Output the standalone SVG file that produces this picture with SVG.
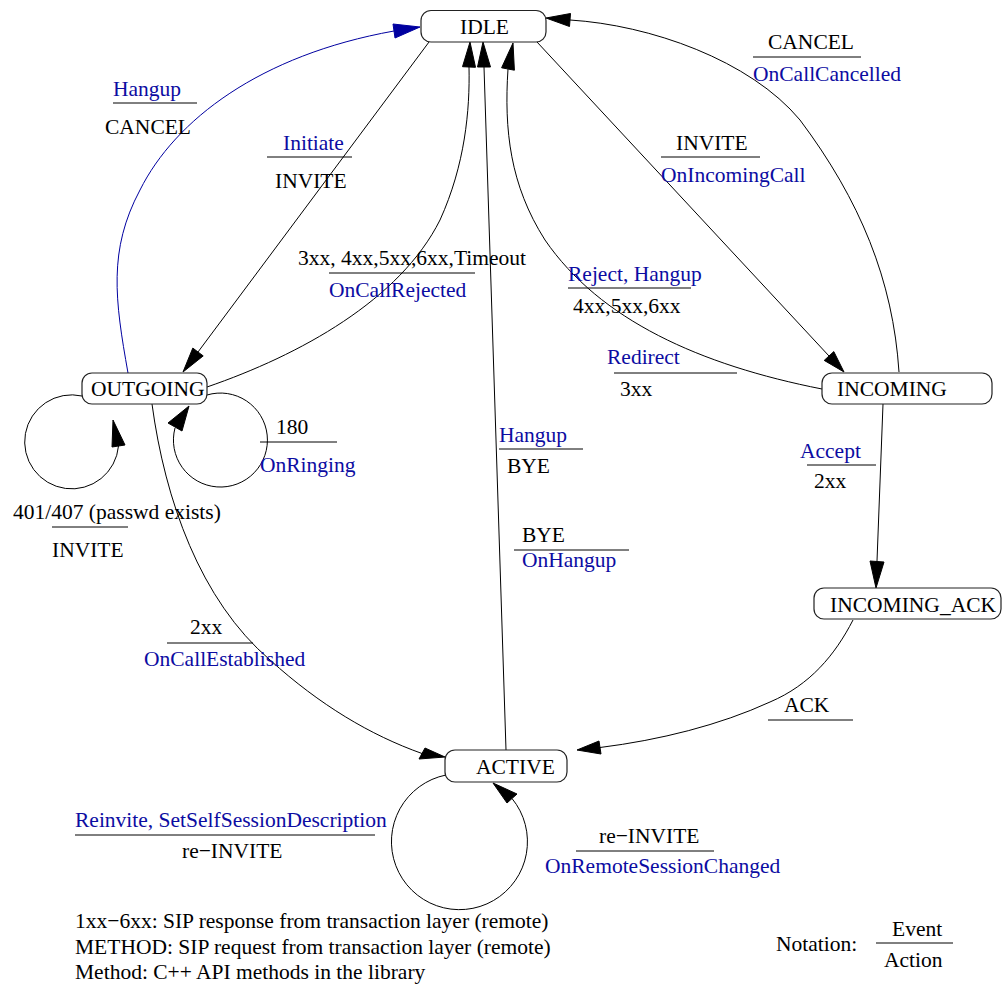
<svg xmlns="http://www.w3.org/2000/svg" width="1002" height="984" viewBox="0 0 1002 984">
  <style>
    text { font-family: "Liberation Serif", "Times New Roman", serif; font-size: 21.5px; fill: #000; }
    text.b { fill: #0c0ca2; }
    .node { fill: #fff; stroke: #222; stroke-width: 1.2; }
    .edge { fill: none; stroke: #000; stroke-width: 1; }
    .edge.blue { stroke: #0000a0; }
    .head { fill: #000; stroke: #000; stroke-width: 1; }
    .head.blue { fill: #0000a0; stroke: #0000a0; }
    .sep { stroke: #000; stroke-width: 1; }
  </style>
  <rect width="1002" height="984" fill="#fff"/>

  <!-- connectors -->
  <g id="edges">
    <!-- OUTGOING -> IDLE : Hangup / CANCEL -->
    <path class="edge blue" d="M128,373 C115,300 108,250 140,190 C175,120 260,55 394,31"/>
    <polygon class="head blue" points="420,27 395,38 393,24"/>

    <!-- IDLE -> OUTGOING : Initiate / INVITE -->
    <path class="edge" d="M429,42 L198,352"/>
    <polygon class="head" points="183,372 192.8,348.1 203.2,355.9"/>

    <!-- OUTGOING -> IDLE : 3xx..Timeout / OnCallRejected -->
    <path class="edge" d="M207,387 C300,355 400,300 440,220 C465,165 470,110 469,67"/>
    <polygon class="head" points="470,42 475.5,67.3 462.5,66.7"/>

    <!-- ACTIVE -> IDLE : Hangup / BYE and BYE / OnHangup -->
    <path class="edge" d="M506,750 L484,67"/>
    <polygon class="head" points="483,42 490.5,67 477.5,67"/>

    <!-- INCOMING -> IDLE : Reject, Hangup / 4xx..  and Redirect / 3xx -->
    <path class="edge" d="M822,389 C700,365 600,320 545,240 C510,185 504,130 508,69"/>
    <polygon class="head" points="513,43 514.4,70.2 501.6,67.8"/>

    <!-- IDLE -> INCOMING : INVITE / OnIncomingCall -->
    <path class="edge" d="M537,42 L829,356"/>
    <polygon class="head" points="844,372 824.2,360.4 833.8,351.6"/>

    <!-- INCOMING -> IDLE : CANCEL / OnCallCancelled -->
    <path class="edge" d="M899,372 C893,280 860,200 800,120 C750,60 650,25 570,20"/>
    <polygon class="head" points="546,18 570.5,13.5 569.5,26.5"/>

    <!-- OUTGOING self loop : 401/407 / INVITE -->
    <path class="edge" d="M82,396 A47,47 0 1 0 118.5,446"/>
    <polygon class="head" points="113,420 112,447 125,445"/>

    <!-- OUTGOING self loop : 180 / OnRinging -->
    <path class="edge" d="M207,395 A47,47 0 1 1 175,428"/>
    <polygon class="head" points="189,406 168,423 182,431"/>

    <!-- OUTGOING -> ACTIVE : 2xx / OnCallEstablished -->
    <path class="edge" d="M152,404 C165,500 200,600 270,660 C320,705 370,735 422,753.5"/>
    <polygon class="head" points="445,757 419,759 425,748"/>

    <!-- INCOMING -> INCOMING_ACK : Accept / 2xx -->
    <path class="edge" d="M883,404 L877,561"/>
    <polygon class="head" points="876,588 870,561 884,562"/>

    <!-- INCOMING_ACK -> ACTIVE : ACK -->
    <path class="edge" d="M853,620 C835,655 810,685 770,702 C720,725 660,740 600,747.5"/>
    <polygon class="head" points="577,750 599,741 601,754"/>

    <!-- ACTIVE self loop : Reinvite / re-INVITE -->
    <path class="edge" d="M446,775 A68,68 0 1 0 512,798.5"/>
    <polygon class="head" points="493,783 507,803 517,794"/>
  </g>

  <!-- edge labels: event above the bar, action below -->
  <g id="labels">
    <text class="b" x="113" y="96">Hangup</text>
    <line class="sep" x1="113" y1="103" x2="197" y2="103"/>
    <text x="105" y="134">CANCEL</text>

    <text class="b" x="283" y="150">Initiate</text>
    <line class="sep" x1="267" y1="157" x2="352" y2="157"/>
    <text x="275" y="188">INVITE</text>

    <text x="298" y="265">3xx, 4xx,5xx,6xx,Timeout</text>
    <line class="sep" x1="329" y1="273" x2="475" y2="273"/>
    <text class="b" x="329" y="297">OnCallRejected</text>

    <text x="768" y="49">CANCEL</text>
    <line class="sep" x1="753" y1="57" x2="861" y2="57"/>
    <text class="b" x="753" y="81">OnCallCancelled</text>

    <text x="676" y="150">INVITE</text>
    <line class="sep" x1="661" y1="157" x2="760" y2="157"/>
    <text class="b" x="661" y="182">OnIncomingCall</text>

    <text class="b" x="568" y="281">Reject, Hangup</text>
    <line class="sep" x1="568" y1="288" x2="691" y2="288"/>
    <text x="573" y="313">4xx,5xx,6xx</text>

    <text class="b" x="607" y="364">Redirect</text>
    <line class="sep" x1="614" y1="373" x2="737" y2="373"/>
    <text x="620" y="396">3xx</text>

    <text class="b" x="499" y="442">Hangup</text>
    <line class="sep" x1="499" y1="449" x2="583" y2="449"/>
    <text x="507" y="473">BYE</text>

    <text x="522" y="542">BYE</text>
    <line class="sep" x1="514" y1="550" x2="629" y2="550"/>
    <text class="b" x="522" y="567">OnHangup</text>

    <text class="b" x="800" y="458">Accept</text>
    <line class="sep" x1="807" y1="465" x2="876" y2="465"/>
    <text x="814" y="488">2xx</text>

    <text x="276" y="434">180</text>
    <line class="sep" x1="260" y1="442" x2="337" y2="442"/>
    <text class="b" x="260" y="472">OnRinging</text>

    <text x="13" y="519">401/407 (passwd exists)</text>
    <line class="sep" x1="52" y1="527" x2="128" y2="527"/>
    <text x="52" y="557">INVITE</text>

    <text x="190" y="634">2xx</text>
    <line class="sep" x1="167" y1="643" x2="253" y2="643"/>
    <text class="b" x="144" y="666">OnCallEstablished</text>

    <text x="784" y="712">ACK</text>
    <line class="sep" x1="768" y1="720" x2="853" y2="720"/>

    <text class="b" x="75" y="827">Reinvite, SetSelfSessionDescription</text>
    <line class="sep" x1="75" y1="835" x2="375" y2="835"/>
    <text x="182" y="858">re−INVITE</text>

    <text x="599" y="843">re−INVITE</text>
    <line class="sep" x1="576" y1="851" x2="714" y2="851"/>
    <text class="b" x="545" y="873">OnRemoteSessionChanged</text>
  </g>

  <!-- states -->
  <g id="IDLE">
    <rect class="node" x="421" y="10.5" width="125" height="31.5" rx="10"/>
    <text x="460" y="34">IDLE</text>
  </g>
  <g id="OUTGOING">
    <rect class="node" x="82" y="373" width="125" height="31" rx="10"/>
    <text x="91" y="396">OUTGOING</text>
  </g>
  <g id="INCOMING">
    <rect class="node" x="822" y="373" width="170" height="31" rx="10"/>
    <text x="837" y="396">INCOMING</text>
  </g>
  <g id="INCOMING_ACK">
    <rect class="node" x="814" y="588" width="187" height="31" rx="10"/>
    <text x="830" y="612">INCOMING_ACK</text>
  </g>
  <g id="ACTIVE">
    <rect class="node" x="445" y="750" width="122" height="32" rx="10"/>
    <text x="476" y="774">ACTIVE</text>
  </g>

  <!-- legend -->
  <g id="legend">
    <text x="75" y="928">1xx−6xx: SIP response from transaction layer (remote)</text>
    <text x="75" y="954">METHOD: SIP request from transaction layer (remote)</text>
    <text x="75" y="979">Method: C++ API methods in the library</text>
    <text x="776" y="951">Notation:</text>
    <text x="892" y="936">Event</text>
    <line class="sep" x1="876" y1="943" x2="953" y2="943"/>
    <text x="884" y="967">Action</text>
  </g>
</svg>
